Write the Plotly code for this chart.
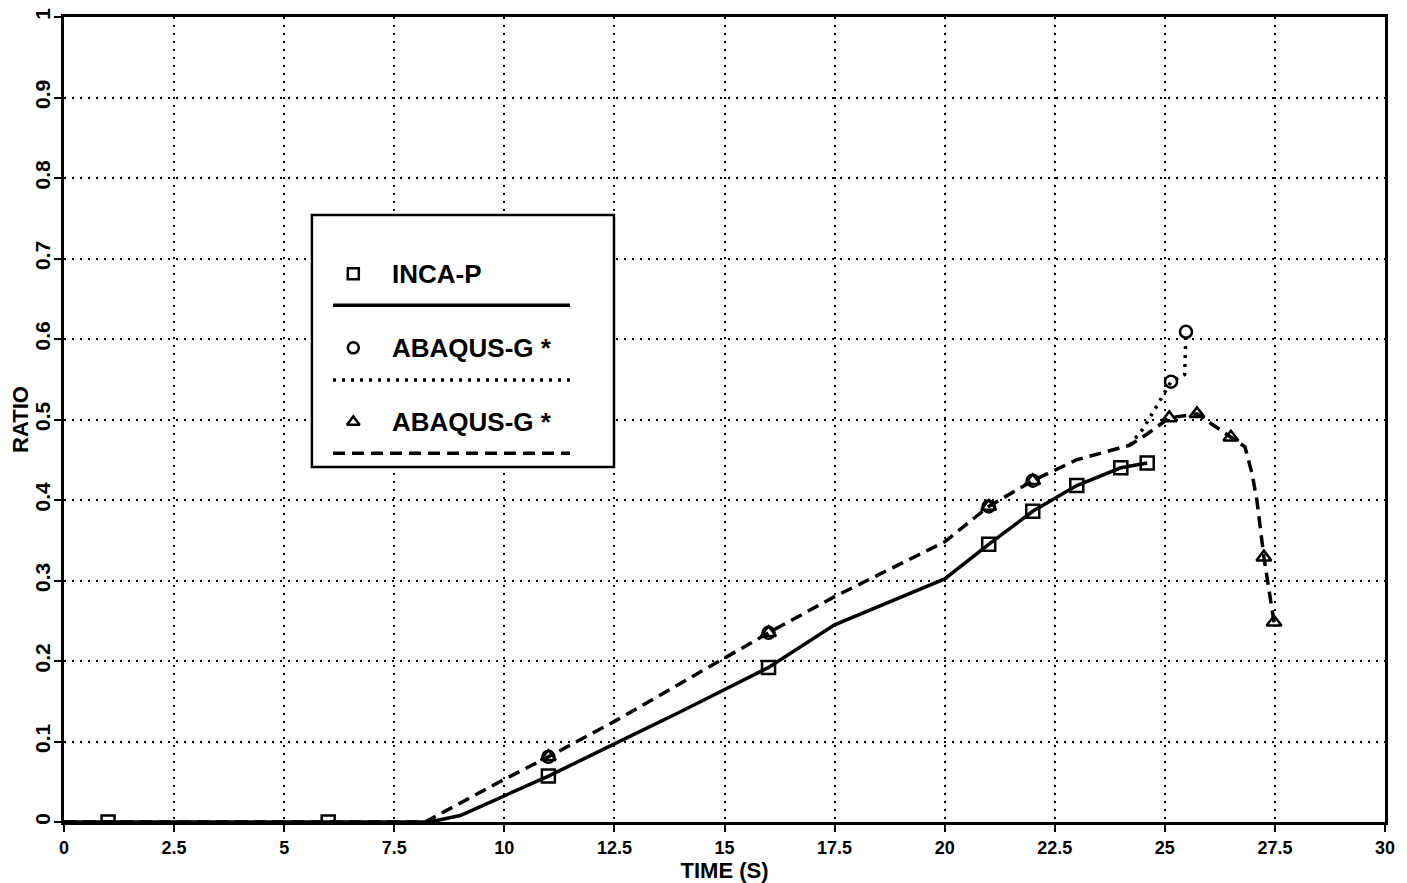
import plotly.graph_objects as go

# ---------------- data ----------------
# INCA-P (solid line, squares)
inca_line_t = [0, 1, 6, 8.3, 9.0, 10.0, 11.0, 12.5, 14.0, 16.0, 17.5, 20.0, 21.0, 22.0, 23.0, 24.0, 24.6]
inca_line_r = [0, 0, 0, 0.0, 0.008, 0.032, 0.057, 0.097, 0.137, 0.192, 0.245, 0.302, 0.345, 0.386, 0.418, 0.440, 0.446]
inca_mark_t = [1, 6, 11, 16, 21, 22, 23, 24, 24.6]
inca_mark_r = [0, 0, 0.057, 0.192, 0.345, 0.386, 0.418, 0.440, 0.446]

# ABAQUS-G * (dotted line, circles) -- coincides with the dashed curve up to t = 24.2
abq1_line_t = [0, 8.2, 10.0, 11.0, 12.5, 16.0, 17.5, 20.0, 21.0, 22.0, 23.0, 24.2, 24.5, 24.8, 25.14, 25.45, 25.48]
abq1_line_r = [0, 0.0, 0.053, 0.081, 0.125, 0.235, 0.280, 0.348, 0.392, 0.424, 0.450, 0.468, 0.488, 0.515, 0.547, 0.556, 0.609]
abq1_mark_t = [11, 16, 21, 22, 25.14, 25.48]
abq1_mark_r = [0.081, 0.235, 0.392, 0.424, 0.547, 0.609]
abq1_branch_t = 24.2

# ABAQUS-G * (dashed line, triangles)
abq2_line_t = [0, 8.2, 10.0, 11.0, 12.5, 16.0, 17.5, 20.0, 21.0, 22.0, 23.0, 24.2, 24.6, 25.1, 25.73, 26.5, 26.82, 26.98, 27.09, 27.25, 27.48]
abq2_line_r = [0, 0.0, 0.053, 0.081, 0.125, 0.235, 0.280, 0.348, 0.392, 0.424, 0.450, 0.468, 0.482, 0.502, 0.507, 0.478, 0.466, 0.433, 0.400, 0.329, 0.248]
abq2_mark_t = [11, 16, 21, 22, 25.1, 25.73, 26.5, 27.25, 27.48]
abq2_mark_r = [0.081, 0.235, 0.392, 0.424, 0.502, 0.507, 0.478, 0.329, 0.248]

x_ticks = [0, 2.5, 5, 7.5, 10, 12.5, 15, 17.5, 20, 22.5, 25, 27.5, 30]
x_tick_text = ["0", "2.5", "5", "7.5", "10", "12.5", "15", "17.5", "20", "22.5", "25", "27.5", "30"]
y_ticks = [0, 0.1, 0.2, 0.3, 0.4, 0.5, 0.6, 0.7, 0.8, 0.9, 1]
y_tick_text = ["0", "0.1", "0.2", "0.3", "0.4", "0.5", "0.6", "0.7", "0.8", "0.9", "1"]

legend_labels = ["INCA-P", "ABAQUS-G *", "ABAQUS-G *"]

# ---------------- styling ----------------
FONT = "Liberation Sans, Arial, sans-serif"
TICKFONT = "Liberation Sans Narrow, Liberation Sans, Arial, sans-serif"
BLACK = "black"
LW = 3.5
DOT = "3px,6px"
DASH = "12px,7px"

fig = go.Figure()

# dotted curve drawn only where it leaves the dashed one (they overlap before)
k = next(i for i, t in enumerate(abq1_line_t) if t >= abq1_branch_t)

fig.add_trace(go.Scatter(x=inca_line_t, y=inca_line_r, mode="lines",
                         line=dict(color=BLACK, width=LW), showlegend=False, hoverinfo="skip"))
fig.add_trace(go.Scatter(x=abq1_line_t[k:], y=abq1_line_r[k:], mode="lines",
                         line=dict(color=BLACK, width=LW, dash=DOT), showlegend=False, hoverinfo="skip"))
fig.add_trace(go.Scatter(x=abq2_line_t, y=abq2_line_r, mode="lines",
                         line=dict(color=BLACK, width=LW, dash=DASH), showlegend=False, hoverinfo="skip"))

fig.add_trace(go.Scatter(x=inca_mark_t, y=inca_mark_r, mode="markers",
                         marker=dict(symbol="square-open", size=13, color=BLACK, line=dict(width=2.5)),
                         showlegend=False))
fig.add_trace(go.Scatter(x=abq1_mark_t, y=abq1_mark_r, mode="markers",
                         marker=dict(symbol="circle-open", size=12, color=BLACK, line=dict(width=2.5)),
                         showlegend=False))
fig.add_trace(go.Scatter(x=abq2_mark_t, y=abq2_mark_r, mode="markers",
                         marker=dict(symbol="triangle-up-open", size=13, color=BLACK, line=dict(width=2.5)),
                         showlegend=False))

# ---------------- hand-drawn legend box ----------------
box_x0, box_x1, box_y0, box_y1 = 5.63, 12.49, 0.441, 0.754
sym_x = 6.57
txt_x = 7.40
row_y = [0.681, 0.589, 0.497]
line_y = [0.642, 0.549, 0.458]
line_x0, line_x1 = 6.11, 11.49
line_dash = ["solid", DOT, DASH]
symbols = ["square-open", "circle-open", "triangle-up-open"]

fig.add_shape(type="rect", xref="x", yref="y", x0=box_x0, x1=box_x1, y0=box_y0, y1=box_y1,
              line=dict(width=0), fillcolor="white", layer="between")
fig.add_shape(type="rect", xref="x", yref="y", x0=box_x0, x1=box_x1, y0=box_y0, y1=box_y1,
              line=dict(color=BLACK, width=2.5), layer="above")
fig.add_trace(go.Scatter(x=[sym_x] * 3, y=row_y, mode="markers",
                         marker=dict(symbol=symbols, size=11, color=BLACK, line=dict(width=2.5)),
                         showlegend=False, hoverinfo="skip"))
for i in range(3):
    fig.add_shape(type="line", xref="x", yref="y", x0=line_x0, x1=line_x1, y0=line_y[i], y1=line_y[i],
                  line=dict(color=BLACK, width=LW, dash=line_dash[i]), layer="above")
    fig.add_annotation(x=txt_x, y=row_y[i], xref="x", yref="y", text="<b>" + legend_labels[i] + "</b>",
                       showarrow=False, xanchor="left", yanchor="middle",
                       font=dict(family=FONT, size=26, color=BLACK))

axis_common = dict(showline=True, linewidth=3, linecolor=BLACK, mirror=True,
                   ticks="outside", ticklen=7, tickwidth=2, tickcolor=BLACK,
                   showgrid=True, gridcolor=BLACK, gridwidth=2, griddash="2px,6px",
                   zeroline=False, automargin=False, ticklabeloverflow="allow")

fig.update_xaxes(range=[0, 30], tickmode="array", tickvals=x_ticks,
                 ticktext=["<b>" + t + "</b>" for t in x_tick_text],
                 tickfont=dict(family=TICKFONT, size=18, color=BLACK),
                 title=dict(text="<b>TIME (S)</b>", standoff=2,
                            font=dict(family=FONT, size=22, color=BLACK)),
                 **axis_common)
fig.update_yaxes(range=[0, 1], tickmode="array", tickvals=y_ticks,
                 ticktext=["<b>" + t + "</b>" for t in y_tick_text],
                 tickangle=-90, ticklabelstandoff=-4,
                 tickfont=dict(family=TICKFONT, size=21, color=BLACK),
                 title=dict(text="<b>RATIO</b>", standoff=4,
                            font=dict(family=FONT, size=22, color=BLACK)),
                 **axis_common)

fig.update_layout(width=1399, height=875, autosize=False,
                  margin=dict(l=56, r=22, t=9, b=61),
                  plot_bgcolor="white", paper_bgcolor="white",
                  showlegend=False)

fig.write_html("out.html")
